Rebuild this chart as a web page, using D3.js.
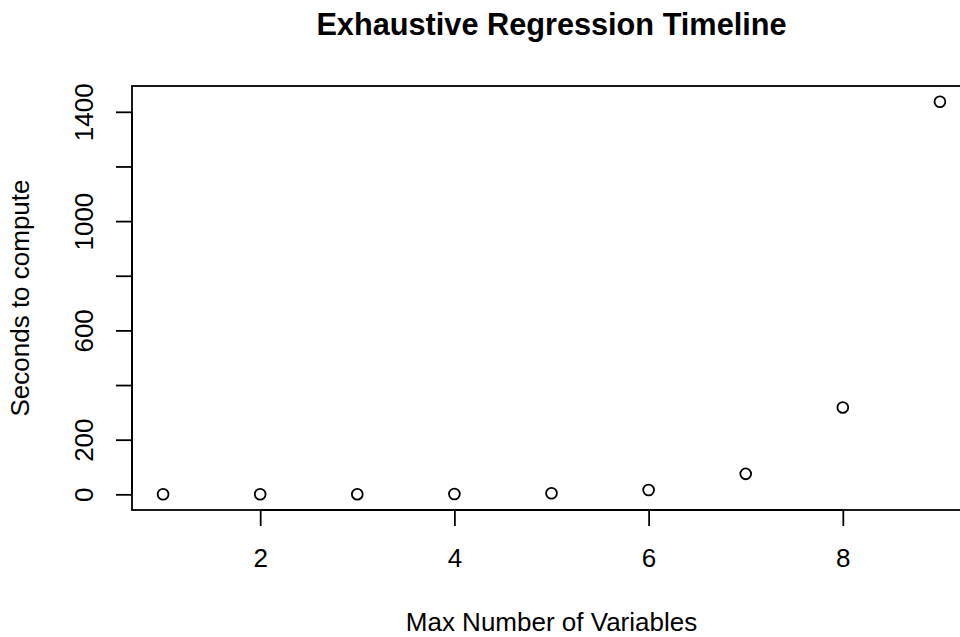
<!DOCTYPE html>
<html>
<head>
<meta charset="utf-8">
<script src="https://cdn.jsdelivr.net/npm/d3@7"></script>
<style>
  body { margin: 0; background: #fff; }
  svg { display: block; }
  text { font-family: "Liberation Sans", Arial, sans-serif; fill: #000; }
</style>
</head>
<body>
<div id="chart"></div>
<script>
// data
const maxVars = [1, 2, 3, 4, 5, 6, 7, 8, 9];
const seconds = [0.1, 0.2, 0.5, 1, 4, 16, 75, 318, 1437];
const xTicks = [2, 4, 6, 8];
const yTicks = [0, 200, 400, 600, 800, 1000, 1200, 1400];
const yTickLabels = [0, 200, 600, 1000, 1400];

const width = 960, height = 637;
// plot box (right edge runs off the canvas like the original)
const box = { left: 132, top: 86, right: 971, bottom: 510 };
const lineH = 32; // one margin line in px

const svg = d3.select('#chart')
  .append('svg')
  .attr('width', width)
  .attr('height', height);

// R style 4% padding on both sides
const xExt = d3.extent(maxVars), yExt = d3.extent(seconds);
const xPad = (xExt[1] - xExt[0]) * 0.04, yPad = (yExt[1] - yExt[0]) * 0.04;

const x = d3.scaleLinear()
  .domain([xExt[0] - xPad, xExt[1] + xPad])
  .range([box.left, box.right]);
const y = d3.scaleLinear()
  .domain([yExt[0] - yPad, yExt[1] + yPad])
  .range([box.bottom, box.top]);

const stroke = 1.8;

// box
svg.append('rect')
  .attr('x', box.left)
  .attr('y', box.top)
  .attr('width', box.right - box.left)
  .attr('height', box.bottom - box.top)
  .attr('fill', 'none')
  .attr('stroke', '#000')
  .attr('stroke-width', stroke);

// x axis
const xAxis = d3.axisBottom(x)
  .tickValues(xTicks)
  .tickSize(lineH / 2)
  .tickPadding(0)
  .tickFormat(d3.format('d'));
const gx = svg.append('g')
  .attr('transform', `translate(0,${box.bottom})`)
  .call(xAxis);
gx.select('.domain')
  .attr('d', `M${x(xTicks[0])},0H${x(xTicks[xTicks.length - 1])}`);
gx.selectAll('line').attr('stroke-width', stroke);
gx.selectAll('path').attr('stroke-width', stroke);
gx.selectAll('text')
  .attr('y', 1.78 * lineH)
  .attr('dy', null)
  .style('font-size', '26px')
  .style('font-family', '"Liberation Sans", Arial, sans-serif');

// y axis
const yAxis = d3.axisLeft(y)
  .tickValues(yTicks)
  .tickSize(lineH / 2)
  .tickFormat(d => yTickLabels.includes(d) ? d : '');
const gy = svg.append('g')
  .attr('transform', `translate(${box.left},0)`)
  .call(yAxis);
gy.select('.domain')
  .attr('d', `M0,${y(yTicks[0])}V${y(yTicks[yTicks.length - 1])}`);
gy.selectAll('line').attr('stroke-width', stroke);
gy.selectAll('path').attr('stroke-width', stroke);
gy.selectAll('text')
  .attr('x', null)
  .attr('dy', null)
  .attr('text-anchor', 'middle')
  .attr('transform', `translate(${-1.22 * lineH},0) rotate(-90)`)
  .style('font-size', '26px')
  .style('font-family', '"Liberation Sans", Arial, sans-serif');

// points
svg.append('g')
  .selectAll('circle')
  .data(maxVars)
  .enter()
  .append('circle')
  .attr('cx', d => x(d))
  .attr('cy', (d, i) => y(seconds[i]))
  .attr('r', 5.4)
  .attr('fill', 'none')
  .attr('stroke', '#000')
  .attr('stroke-width', stroke);

// title and axis labels
const cx = (box.left + box.right) / 2;
svg.append('text')
  .attr('x', cx)
  .attr('y', 35)
  .attr('text-anchor', 'middle')
  .style('font-size', '30.7px')
  .style('font-weight', 'bold')
  .text('Exhaustive Regression Timeline');

svg.append('text')
  .attr('x', cx)
  .attr('y', box.bottom + 3.78 * lineH)
  .attr('text-anchor', 'middle')
  .style('font-size', '26px')
  .text('Max Number of Variables');

svg.append('text')
  .attr('transform', `translate(${box.left - 3.22 * lineH},${(box.top + box.bottom) / 2}) rotate(-90)`)
  .attr('text-anchor', 'middle')
  .style('font-size', '26px')
  .text('Seconds to compute');
</script>
</body>
</html>
